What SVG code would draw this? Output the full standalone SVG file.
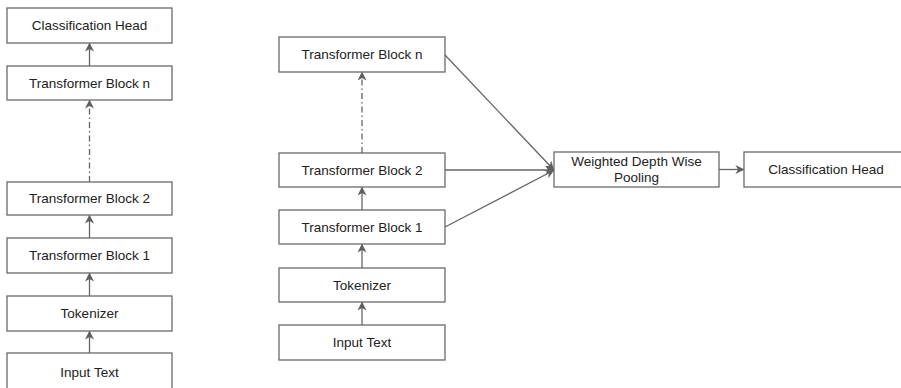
<svg xmlns="http://www.w3.org/2000/svg" width="901" height="388" viewBox="0 0 901 388">
  <defs>
    <marker id="arr" viewBox="0 0 10 10" refX="9" refY="5" markerWidth="9" markerHeight="9" markerUnits="userSpaceOnUse" orient="auto">
      <path d="M0,0 L10,5 L0,10 L3,5 Z" fill="#5f5f5f"/>
    </marker>
  </defs>
  <style>
    .box rect { fill: #ffffff; stroke: #6a6a6a; stroke-width: 1.3; }
    .box text { font-family: "Liberation Sans", Arial, sans-serif; font-size: 13.5px; fill: #222222; text-anchor: middle; dominant-baseline: central; }
    .edge { fill: none; stroke: #666666; stroke-width: 1.3; marker-end: url(#arr); }
    .dash { stroke-dasharray: 6 3 1.5 3; }
  </style>
  <rect width="901" height="388" fill="#ffffff"/>

  <!-- baseline stack -->
  <g id="l-head" class="box"><rect x="7" y="8" width="165" height="35"/><text x="89.5" y="25.5">Classification Head</text></g>
  <g id="l-tbn" class="box"><rect x="7" y="66" width="165" height="34"/><text x="89.5" y="83">Transformer Block n</text></g>
  <g id="l-tb2" class="box"><rect x="7" y="182" width="165" height="33"/><text x="89.5" y="198.5">Transformer Block 2</text></g>
  <g id="l-tb1" class="box"><rect x="7" y="238" width="165" height="35"/><text x="89.5" y="255.5">Transformer Block 1</text></g>
  <g id="l-tok" class="box"><rect x="7" y="296" width="165" height="35"/><text x="89.5" y="313.5">Tokenizer</text></g>
  <g id="l-input" class="box"><rect x="7" y="353" width="165" height="40"/><text x="89.5" y="372">Input Text</text></g>

  <!-- weighted pooling stack -->
  <g id="r-tbn" class="box"><rect x="279" y="37" width="166" height="35"/><text x="362" y="54.5">Transformer Block n</text></g>
  <g id="r-tb2" class="box"><rect x="279" y="153" width="166" height="34"/><text x="362" y="170">Transformer Block 2</text></g>
  <g id="r-tb1" class="box"><rect x="279" y="210" width="166" height="34"/><text x="362" y="227">Transformer Block 1</text></g>
  <g id="r-tok" class="box"><rect x="279" y="268" width="166" height="34"/><text x="362" y="285">Tokenizer</text></g>
  <g id="r-input" class="box"><rect x="279" y="325" width="166" height="35"/><text x="362" y="342.5">Input Text</text></g>
  <g id="r-pool" class="box"><rect x="554" y="152" width="165" height="35"/><text x="636.5" y="161.5">Weighted Depth Wise</text><text x="636.5" y="177.5">Pooling</text></g>
  <g id="r-head" class="box"><rect x="744" y="152" width="166" height="35"/><text x="826" y="169.5">Classification Head</text></g>

  <g id="connectors">
    <line class="edge" x1="89.5" y1="66" x2="89.5" y2="43.5"/>
    <line class="edge dash" x1="89.5" y1="182" x2="89.5" y2="100.5"/>
    <line class="edge" x1="89.5" y1="238" x2="89.5" y2="215.5"/>
    <line class="edge" x1="89.5" y1="296" x2="89.5" y2="273.5"/>
    <line class="edge" x1="89.5" y1="353" x2="89.5" y2="331.5"/>

    <line class="edge dash" x1="362" y1="153" x2="362" y2="72.5"/>
    <line class="edge" x1="362" y1="210" x2="362" y2="187.5"/>
    <line class="edge" x1="362" y1="268" x2="362" y2="244.5"/>
    <line class="edge" x1="362" y1="325" x2="362" y2="302.5"/>

    <line class="edge" x1="445" y1="55" x2="553.5" y2="169.5"/>
    <line class="edge" x1="445" y1="170" x2="553.5" y2="170"/>
    <line class="edge" x1="445" y1="227" x2="553.5" y2="170.5"/>
    <line class="edge" x1="719" y1="169.5" x2="743.5" y2="169.5"/>
  </g>
</svg>
